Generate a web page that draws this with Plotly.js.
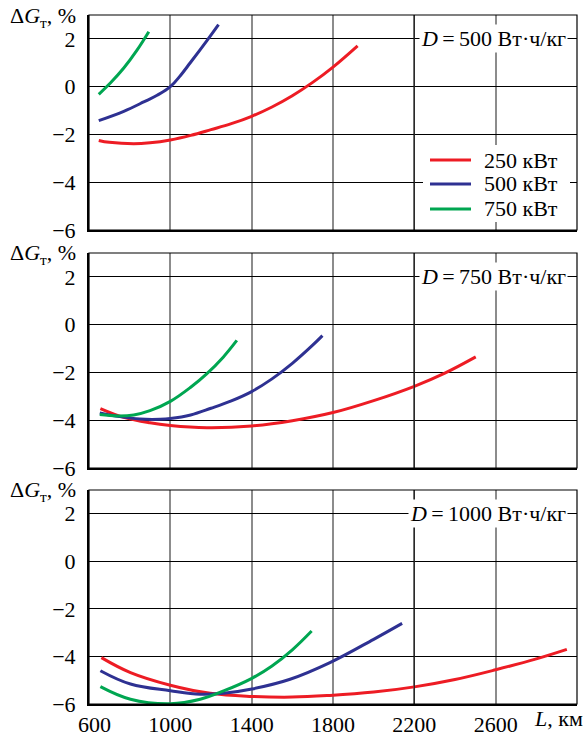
<!DOCTYPE html>
<html>
<head>
<meta charset="utf-8">
<script src="https://cdn.plot.ly/plotly-3.0.1.min.js"></script>
<style>html,body{margin:0;padding:0;background:#fff;}#chart{width:586px;height:738px;}</style>
</head>
<body>
<div id="chart"></div>
<script>
// ---- data ----
const seriesNames = ['250 кВт', '500 кВт', '750 кВт'];
const seriesColors = ['#ED1C24', '#2E3192', '#00A651'];
const panelLabels = ['500', '750', '1000'];

// D = 500 Вт·ч/кг
const d500_250_L = [648, 700, 820, 900, 1000, 1100, 1200, 1300, 1400, 1500, 1600, 1700, 1800, 1921];
const d500_250_G = [-2.25, -2.33, -2.39, -2.35, -2.23, -2.04, -1.80, -1.55, -1.24, -0.85, -0.38, 0.18, 0.82, 1.71];
const d500_500_L = [648, 771, 869, 935, 1000, 1050, 1098, 1180, 1237];
const d500_500_G = [-1.42, -1.03, -0.64, -0.36, 0.0, 0.47, 1.00, 1.93, 2.60];
const d500_750_L = [648, 705, 771, 837, 894];
const d500_750_G = [-0.32, 0.15, 0.78, 1.54, 2.30];

// D = 750 Вт·ч/кг
const d750_250_L = [656, 771, 900, 1000, 1180, 1400, 1600, 1800, 2000, 2200, 2350, 2502];
const d750_250_G = [-3.51, -3.88, -4.11, -4.22, -4.31, -4.24, -4.02, -3.68, -3.18, -2.58, -2.03, -1.35];
const d750_500_L = [653, 750, 850, 950, 1000, 1100, 1200, 1300, 1400, 1500, 1600, 1700, 1748];
const d750_500_G = [-3.70, -3.85, -3.95, -3.96, -3.93, -3.78, -3.50, -3.19, -2.80, -2.27, -1.62, -0.86, -0.46];
const d750_750_L = [653, 740, 820, 900, 1000, 1100, 1180, 1260, 1327];
const d750_750_G = [-3.76, -3.82, -3.78, -3.60, -3.21, -2.62, -2.05, -1.36, -0.66];

// D = 1000 Вт·ч/кг
const d1000_250_L = [661, 804, 1000, 1196, 1400, 1600, 1785, 2000, 2200, 2400, 2600, 2800, 2950];
const d1000_250_G = [-4.05, -4.68, -5.21, -5.55, -5.68, -5.71, -5.64, -5.50, -5.28, -4.97, -4.56, -4.10, -3.70];
const d1000_500_L = [656, 804, 1000, 1147, 1262, 1401, 1589, 1785, 2000, 2140];
const d1000_500_G = [-4.60, -5.16, -5.44, -5.59, -5.55, -5.37, -4.96, -4.26, -3.28, -2.61];
const d1000_750_L = [656, 804, 1000, 1147, 1262, 1401, 1500, 1600, 1695];
const d1000_750_G = [-5.27, -5.80, -5.99, -5.80, -5.45, -4.92, -4.40, -3.72, -2.93];

const xTickVals = [600, 1000, 1400, 1800, 2200, 2600];
const xTickText = ['\u2002600', '1000', '1400', '1800', '2200', '2600'];
const yTickVals = [-6, -4, -2, 0, 2];
const darkGridX = [2200];

// ---- build ----
const panels = [
  [[d500_250_L, d500_250_G], [d500_500_L, d500_500_G], [d500_750_L, d500_750_G]],
  [[d750_250_L, d750_250_G], [d750_500_L, d750_500_G], [d750_750_L, d750_750_G]],
  [[d1000_250_L, d1000_250_G], [d1000_500_L, d1000_500_G], [d1000_750_L, d1000_750_G]]
];

const FONT = 'Liberation Serif, Times New Roman, serif';
const traces = [];
panels.forEach((p, pi) => {
  const sfx = pi === 0 ? '' : String(pi + 1);
  p.forEach((s, si) => {
    traces.push({
      x: s[0], y: s[1], type: 'scatter', mode: 'lines',
      name: seriesNames[si], showlegend: false,
      line: {color: seriesColors[si], width: 3, shape: 'spline', smoothing: 1.1},
      xaxis: 'x' + sfx, yaxis: 'y' + sfx, hoverinfo: 'skip'
    });
  });
});

const H = 738, mt = 15, mb = 34;
const ph = H - mt - mb;
const panelPx = [[15, 230], [253, 468], [490, 704]];
function dom(a) { return [1 - (a[1] - mt) / ph, 1 - (a[0] - mt) / ph]; }

const layout = {
  width: 586, height: 738,
  margin: {l: 89, r: 9, t: mt, b: mb},
  paper_bgcolor: '#fff', plot_bgcolor: '#fff',
  font: {family: FONT, size: 22, color: '#000'},
  showlegend: false,
  shapes: [], annotations: []
};

panelPx.forEach((pp, pi) => {
  const sfx = pi === 0 ? '' : String(pi + 1);
  layout['xaxis' + sfx] = {
    range: [600, 3000], anchor: 'y' + sfx, domain: [0, 1],
    tickvals: xTickVals, ticktext: xTickText, showticklabels: pi === 2,
    showgrid: true, gridcolor: '#8c8c8c', gridwidth: 2,
    showline: true, linecolor: '#000', linewidth: 2, ticks: '', zeroline: false,
    tickfont: {family: FONT, size: 22, color: '#000'}, ticklabelstandoff: 0
  };
  layout['yaxis' + sfx] = {
    range: [-6, 3], anchor: 'x' + sfx, domain: dom(pp),
    tickvals: yTickVals, showgrid: true, gridcolor: '#000', gridwidth: 1,
    showline: true, linecolor: '#000', linewidth: 2, ticks: '', zeroline: false,
    tickfont: {family: FONT, size: 22, color: '#000'}, ticklabelstandoff: 7
  };
  darkGridX.forEach(v => layout.shapes.push({
    type: 'line', xref: 'x' + sfx, yref: 'y' + sfx + ' domain', x0: v, x1: v, y0: 0, y1: 1,
    line: {color: '#222', width: 1.2}, layer: 'above'
  }));
  layout.shapes.push({
    type: 'rect', xref: 'x' + sfx + ' domain', yref: 'y' + sfx + ' domain', x0: 0, x1: 1, y0: 0, y1: 1,
    line: {color: '#000', width: 1.2}, layer: 'above'
  });
  layout.annotations.push({
    xref: 'x' + sfx + ' domain', yref: 'y' + sfx, x: 0.9816, y: 2,
    xanchor: 'right', yanchor: 'middle', showarrow: false,
    text: '<i>D</i>\u2009=\u2009' + panelLabels[pi] + ' Вт·ч/кг',
    bgcolor: '#fff', borderpad: 1, font: {family: FONT, size: 22, color: '#000'}
  });
  layout.annotations.push({
    xref: 'paper', yref: 'y' + sfx + ' domain', x: -0.166, y: 1,
    xanchor: 'left', yanchor: 'middle', yshift: pi === 0 ? -2 : -1, showarrow: false,
    text: 'Δ<i>G</i><sub>т</sub>, %', font: {family: FONT, size: 22, color: '#000'}
  });
});

layout.annotations.push({
  xref: 'paper', yref: 'paper', x: 1.016, y: 0, xanchor: 'right', yanchor: 'top', yshift: 0,
  showarrow: false, text: '<i>L</i>, км', font: {family: FONT, size: 22, color: '#000'}
});

// legend (panel 1)
layout.shapes.push({
  type: 'rect', xref: 'paper', yref: 'paper',
  x0: (423 - 89) / 488, x1: (570 - 89) / 488,
  y0: 1 - (222 - mt) / ph, y1: 1 - (145 - mt) / ph,
  fillcolor: '#fff', line: {width: 0}, layer: 'above'
});
const legRows = [160, 184, 209];
seriesNames.forEach((n, i) => {
  const yp = 1 - (legRows[i] - mt) / ph;
  layout.shapes.push({
    type: 'line', xref: 'paper', yref: 'paper',
    x0: (430 - 89) / 488, x1: (471 - 89) / 488, y0: yp, y1: yp,
    line: {color: seriesColors[i], width: 3}, layer: 'above'
  });
  layout.annotations.push({
    xref: 'paper', yref: 'paper', x: (482 - 89) / 488, y: yp, xanchor: 'left', yanchor: 'middle',
    showarrow: false, text: n, font: {family: FONT, size: 22, color: '#000'}
  });
});

Plotly.newPlot('chart', traces, layout, {staticPlot: true, displayModeBar: false});
</script>
</body>
</html>
